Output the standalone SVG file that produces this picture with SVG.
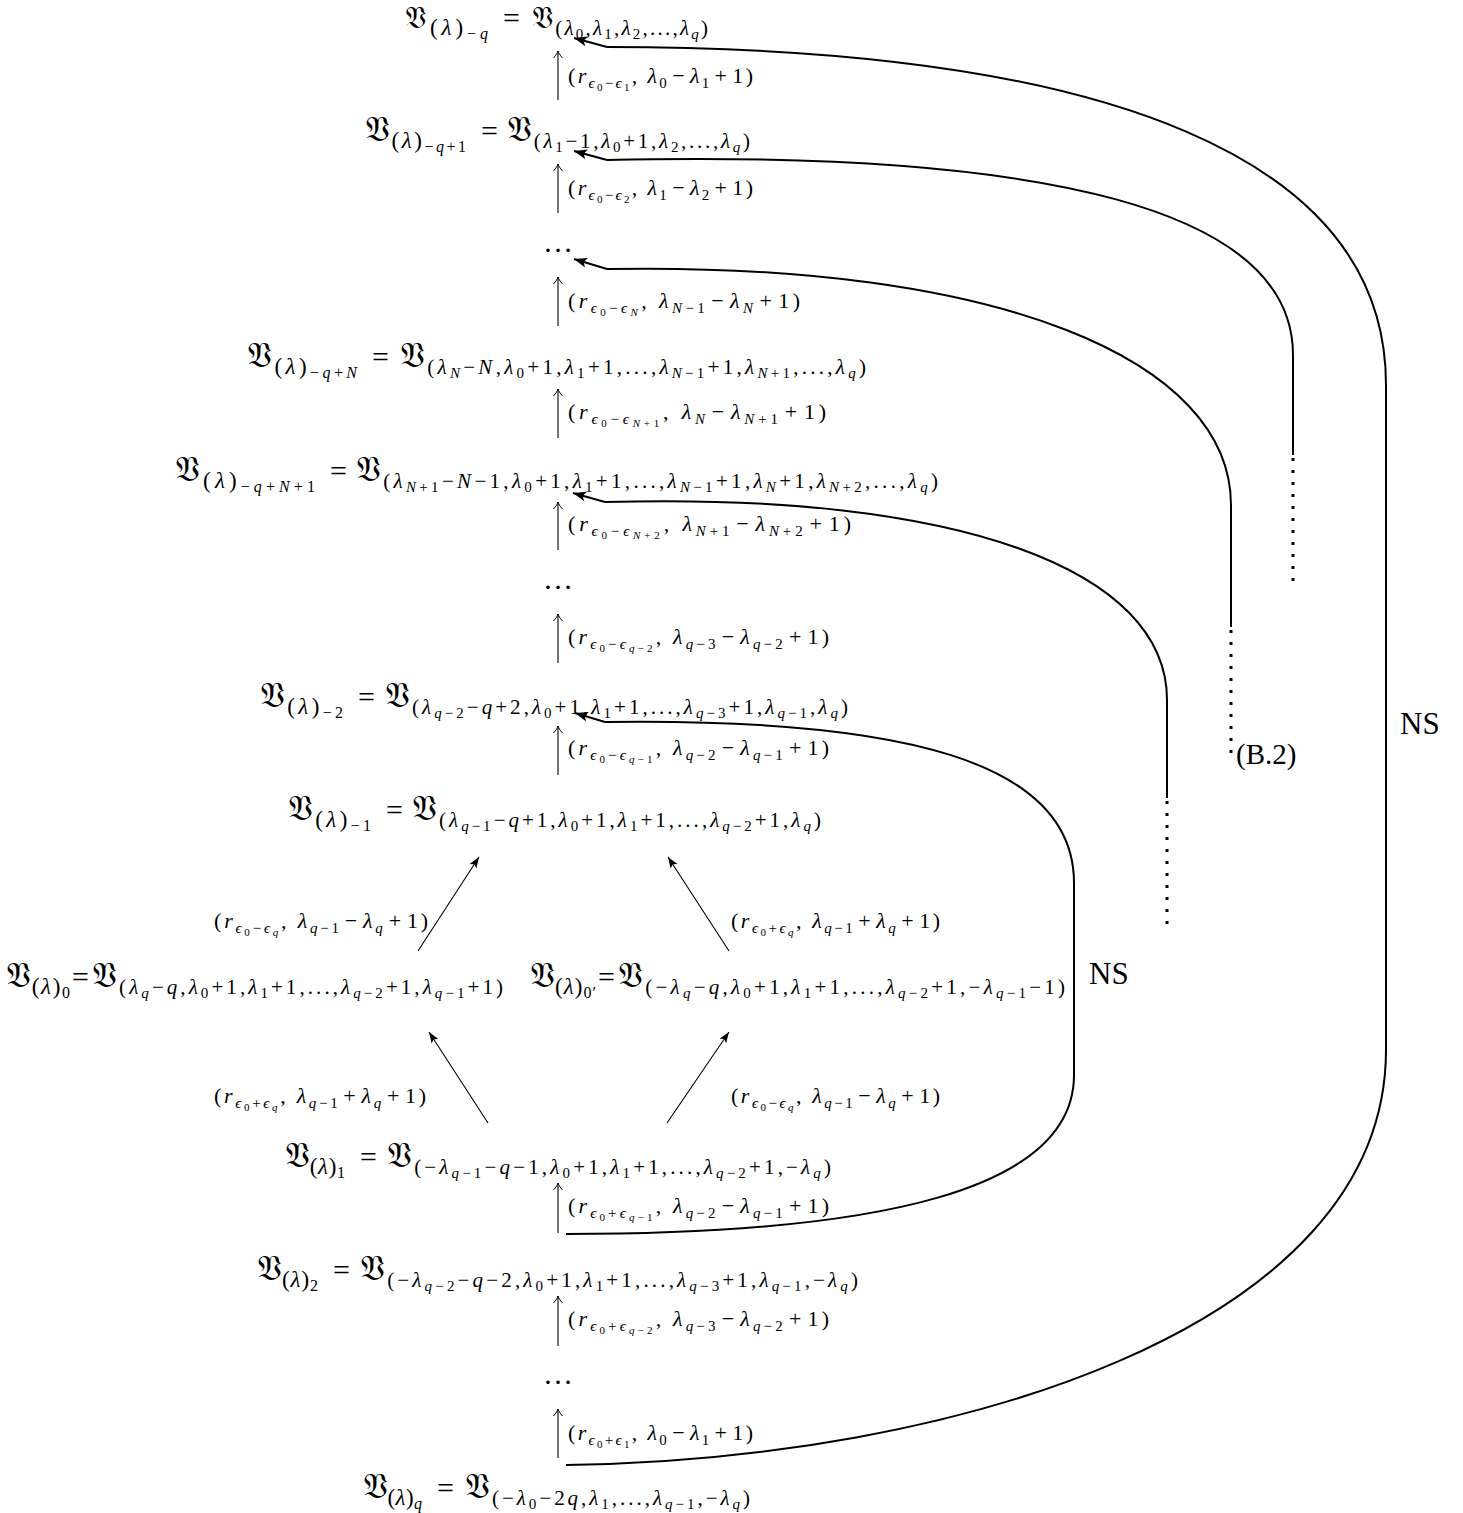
<svg xmlns="http://www.w3.org/2000/svg" width="1463" height="1513" viewBox="0 0 1463 1513">
<style>
text{font-family:"Liberation Serif","DejaVu Serif",serif;fill:#000}
.fr{font-family:"DejaVu Sans","DejaVu Serif","Noto Sans",serif;font-style:normal;font-size:35px}
.fr2{font-family:"DejaVu Sans","DejaVu Serif","Noto Sans",serif;font-style:normal;font-size:30px}
.a{font-size:28px}
.e{font-size:30px}
.b{font-size:21px}
.c{font-size:15px}
.bl{font-size:23px}
.cl{font-size:16px}
.i{font-style:italic}
.L{font-size:22px}
.Ls{font-size:15px}
.Lss{font-size:11px}
.d{font-size:30px}
.t{font-size:31px}
.ln{fill:none;stroke:#000;stroke-width:1.1}
.cv{fill:none;stroke:#000;stroke-width:2}
.dt{fill:none;stroke:#000;stroke-width:3;stroke-dasharray:3 9}
</style>
<defs>
<marker id="hk" viewBox="-9 -6 11 12" markerWidth="11" markerHeight="12" refX="0" refY="0" orient="auto" markerUnits="userSpaceOnUse"><path d="M-7,-4.5 C-4,-1.8 -1.5,-0.4 0,0 C-1.5,0.4 -4,1.8 -7,4.5" fill="none" stroke="#000" stroke-width="1"/></marker>
<marker id="tri" viewBox="-12 -6 14 12" markerWidth="14" markerHeight="12" refX="0" refY="0" orient="auto" markerUnits="userSpaceOnUse"><path d="M0,0 L-11,-4 L-8.5,0 L-11,4 Z" fill="#000"/></marker>
<marker id="big" viewBox="-15 -7 17 14" markerWidth="17" markerHeight="14" refX="0" refY="0" orient="auto" markerUnits="userSpaceOnUse"><path d="M0,0 L-13,-5 L-10,0 L-13,5 Z" fill="#000"/></marker>
</defs>

<g id="n-minus-q">
<text class="a" x="405" y="28" textLength="83" lengthAdjust="spacing"><tspan class="fr2">𝔙</tspan><tspan class="bl" y="35">(<tspan class="i">λ</tspan>)</tspan><tspan class="cl" y="39">−<tspan class="i">q</tspan></tspan></text>
<text class="e" x="503" y="28">=</text>
<text class="a" x="532" y="28" textLength="176" lengthAdjust="spacing"><tspan class="fr2">𝔙</tspan><tspan class="b" y="35">(<tspan class="i">λ</tspan></tspan><tspan class="c" y="39">0</tspan><tspan class="b" y="35">,<tspan class="i">λ</tspan></tspan><tspan class="c" y="39">1</tspan><tspan class="b" y="35">,<tspan class="i">λ</tspan></tspan><tspan class="c" y="39">2</tspan><tspan class="b" y="35">,...,<tspan class="i">λ</tspan></tspan><tspan class="c i" y="39">q</tspan><tspan class="b" y="35">)</tspan></text>
</g>

<g id="n-minus-q-plus-1">
<text class="a" x="365" y="141" textLength="101" lengthAdjust="spacing"><tspan class="fr">𝔙</tspan><tspan class="bl" y="148">(<tspan class="i">λ</tspan>)</tspan><tspan class="cl" y="152">−<tspan class="i">q</tspan>+1</tspan></text>
<text class="e" x="481" y="141">=</text>
<text class="a" x="507" y="141" textLength="243" lengthAdjust="spacing"><tspan class="fr">𝔙</tspan><tspan class="b" y="148">(<tspan class="i">λ</tspan></tspan><tspan class="c" y="152">1</tspan><tspan class="b" y="148">−1,<tspan class="i">λ</tspan></tspan><tspan class="c" y="152">0</tspan><tspan class="b" y="148">+1,<tspan class="i">λ</tspan></tspan><tspan class="c" y="152">2</tspan><tspan class="b" y="148">,...,<tspan class="i">λ</tspan></tspan><tspan class="c i" y="152">q</tspan><tspan class="b" y="148">)</tspan></text>
</g>

<g id="dots-1"><text class="d" x="543" y="252">…</text></g>

<g id="n-minus-q-plus-N">
<text class="a" x="247" y="367" textLength="110" lengthAdjust="spacing"><tspan class="fr">𝔙</tspan><tspan class="bl" y="374">(<tspan class="i">λ</tspan>)</tspan><tspan class="cl" y="378">−<tspan class="i">q</tspan>+<tspan class="i">N</tspan></tspan></text>
<text class="e" x="372" y="367">=</text>
<text class="a" x="400" y="367" textLength="466" lengthAdjust="spacing"><tspan class="fr">𝔙</tspan><tspan class="b" y="374">(<tspan class="i">λ</tspan></tspan><tspan class="c i" y="378">N</tspan><tspan class="b" y="374">−<tspan class="i">N</tspan>,<tspan class="i">λ</tspan></tspan><tspan class="c" y="378">0</tspan><tspan class="b" y="374">+1,<tspan class="i">λ</tspan></tspan><tspan class="c" y="378">1</tspan><tspan class="b" y="374">+1,...,<tspan class="i">λ</tspan></tspan><tspan class="c" y="378"><tspan class="i">N</tspan>−1</tspan><tspan class="b" y="374">+1,<tspan class="i">λ</tspan></tspan><tspan class="c" y="378"><tspan class="i">N</tspan>+1</tspan><tspan class="b" y="374">,...,<tspan class="i">λ</tspan></tspan><tspan class="c i" y="378">q</tspan><tspan class="b" y="374">)</tspan></text>
</g>

<g id="n-minus-q-plus-N-plus-1">
<text class="a" x="175" y="481" textLength="140" lengthAdjust="spacing"><tspan class="fr">𝔙</tspan><tspan class="bl" y="488">(<tspan class="i">λ</tspan>)</tspan><tspan class="cl" y="492">−<tspan class="i">q</tspan>+<tspan class="i">N</tspan>+1</tspan></text>
<text class="e" x="330" y="481">=</text>
<text class="a" x="356" y="481" textLength="582" lengthAdjust="spacing"><tspan class="fr">𝔙</tspan><tspan class="b" y="488">(<tspan class="i">λ</tspan></tspan><tspan class="c" y="492"><tspan class="i">N</tspan>+1</tspan><tspan class="b" y="488">−<tspan class="i">N</tspan>−1,<tspan class="i">λ</tspan></tspan><tspan class="c" y="492">0</tspan><tspan class="b" y="488">+1,<tspan class="i">λ</tspan></tspan><tspan class="c" y="492">1</tspan><tspan class="b" y="488">+1,...,<tspan class="i">λ</tspan></tspan><tspan class="c" y="492"><tspan class="i">N</tspan>−1</tspan><tspan class="b" y="488">+1,<tspan class="i">λ</tspan></tspan><tspan class="c i" y="492">N</tspan><tspan class="b" y="488">+1,<tspan class="i">λ</tspan></tspan><tspan class="c" y="492"><tspan class="i">N</tspan>+2</tspan><tspan class="b" y="488">,...,<tspan class="i">λ</tspan></tspan><tspan class="c i" y="492">q</tspan><tspan class="b" y="488">)</tspan></text>
</g>

<g id="dots-2"><text class="d" x="543" y="589">…</text></g>

<g id="n-minus-2">
<text class="a" x="260" y="707" textLength="83" lengthAdjust="spacing"><tspan class="fr">𝔙</tspan><tspan class="bl" y="714">(<tspan class="i">λ</tspan>)</tspan><tspan class="cl" y="718">−2</tspan></text>
<text class="e" x="358" y="707">=</text>
<text class="a" x="385" y="707" textLength="463" lengthAdjust="spacing"><tspan class="fr">𝔙</tspan><tspan class="b" y="714">(<tspan class="i">λ</tspan></tspan><tspan class="c" y="718"><tspan class="i">q</tspan>−2</tspan><tspan class="b" y="714">−<tspan class="i">q</tspan>+2,<tspan class="i">λ</tspan></tspan><tspan class="c" y="718">0</tspan><tspan class="b" y="714">+1,<tspan class="i">λ</tspan></tspan><tspan class="c" y="718">1</tspan><tspan class="b" y="714">+1,...,<tspan class="i">λ</tspan></tspan><tspan class="c" y="718"><tspan class="i">q</tspan>−3</tspan><tspan class="b" y="714">+1,<tspan class="i">λ</tspan></tspan><tspan class="c" y="718"><tspan class="i">q</tspan>−1</tspan><tspan class="b" y="714">,<tspan class="i">λ</tspan></tspan><tspan class="c i" y="718">q</tspan><tspan class="b" y="714">)</tspan></text>
</g>

<g id="n-minus-1">
<text class="a" x="288" y="820" textLength="83" lengthAdjust="spacing"><tspan class="fr">𝔙</tspan><tspan class="bl" y="827">(<tspan class="i">λ</tspan>)</tspan><tspan class="cl" y="831">−1</tspan></text>
<text class="e" x="386" y="820">=</text>
<text class="a" x="412" y="820" textLength="409" lengthAdjust="spacing"><tspan class="fr">𝔙</tspan><tspan class="b" y="827">(<tspan class="i">λ</tspan></tspan><tspan class="c" y="831"><tspan class="i">q</tspan>−1</tspan><tspan class="b" y="827">−<tspan class="i">q</tspan>+1,<tspan class="i">λ</tspan></tspan><tspan class="c" y="831">0</tspan><tspan class="b" y="827">+1,<tspan class="i">λ</tspan></tspan><tspan class="c" y="831">1</tspan><tspan class="b" y="827">+1,...,<tspan class="i">λ</tspan></tspan><tspan class="c" y="831"><tspan class="i">q</tspan>−2</tspan><tspan class="b" y="827">+1,<tspan class="i">λ</tspan></tspan><tspan class="c i" y="831">q</tspan><tspan class="b" y="827">)</tspan></text>
</g>

<g id="n-0">
<text class="a" x="6" y="987" textLength="64" lengthAdjust="spacing"><tspan class="fr">𝔙</tspan><tspan class="bl" y="994">(<tspan class="i">λ</tspan>)</tspan><tspan class="cl" y="998">0</tspan></text>
<text class="e" x="72" y="987">=</text>
<text class="a" x="92" y="987" textLength="411" lengthAdjust="spacing"><tspan class="fr">𝔙</tspan><tspan class="b" y="994">(<tspan class="i">λ</tspan></tspan><tspan class="c i" y="998">q</tspan><tspan class="b" y="994">−<tspan class="i">q</tspan>,<tspan class="i">λ</tspan></tspan><tspan class="c" y="998">0</tspan><tspan class="b" y="994">+1,<tspan class="i">λ</tspan></tspan><tspan class="c" y="998">1</tspan><tspan class="b" y="994">+1,...,<tspan class="i">λ</tspan></tspan><tspan class="c" y="998"><tspan class="i">q</tspan>−2</tspan><tspan class="b" y="994">+1,<tspan class="i">λ</tspan></tspan><tspan class="c" y="998"><tspan class="i">q</tspan>−1</tspan><tspan class="b" y="994">+1)</tspan></text>
</g>

<g id="n-0prime">
<text class="a" x="530" y="987" textLength="66" lengthAdjust="spacing"><tspan class="fr">𝔙</tspan><tspan class="bl" y="994">(<tspan class="i">λ</tspan>)</tspan><tspan class="cl" y="998">0′</tspan></text>
<text class="e" x="598" y="987">=</text>
<text class="a" x="618" y="987" textLength="447" lengthAdjust="spacing"><tspan class="fr">𝔙</tspan><tspan class="b" y="994">(−<tspan class="i">λ</tspan></tspan><tspan class="c i" y="998">q</tspan><tspan class="b" y="994">−<tspan class="i">q</tspan>,<tspan class="i">λ</tspan></tspan><tspan class="c" y="998">0</tspan><tspan class="b" y="994">+1,<tspan class="i">λ</tspan></tspan><tspan class="c" y="998">1</tspan><tspan class="b" y="994">+1,...,<tspan class="i">λ</tspan></tspan><tspan class="c" y="998"><tspan class="i">q</tspan>−2</tspan><tspan class="b" y="994">+1,−<tspan class="i">λ</tspan></tspan><tspan class="c" y="998"><tspan class="i">q</tspan>−1</tspan><tspan class="b" y="994">−1)</tspan></text>
</g>

<g id="n-1">
<text class="a" x="285" y="1167" textLength="60" lengthAdjust="spacing"><tspan class="fr">𝔙</tspan><tspan class="bl" y="1174">(<tspan class="i">λ</tspan>)</tspan><tspan class="cl" y="1178">1</tspan></text>
<text class="e" x="360" y="1167">=</text>
<text class="a" x="387" y="1167" textLength="444" lengthAdjust="spacing"><tspan class="fr">𝔙</tspan><tspan class="b" y="1174">(−<tspan class="i">λ</tspan></tspan><tspan class="c" y="1178"><tspan class="i">q</tspan>−1</tspan><tspan class="b" y="1174">−<tspan class="i">q</tspan>−1,<tspan class="i">λ</tspan></tspan><tspan class="c" y="1178">0</tspan><tspan class="b" y="1174">+1,<tspan class="i">λ</tspan></tspan><tspan class="c" y="1178">1</tspan><tspan class="b" y="1174">+1,...,<tspan class="i">λ</tspan></tspan><tspan class="c" y="1178"><tspan class="i">q</tspan>−2</tspan><tspan class="b" y="1174">+1,−<tspan class="i">λ</tspan></tspan><tspan class="c i" y="1178">q</tspan><tspan class="b" y="1174">)</tspan></text>
</g>

<g id="n-2">
<text class="a" x="257" y="1280" textLength="61" lengthAdjust="spacing"><tspan class="fr">𝔙</tspan><tspan class="bl" y="1287">(<tspan class="i">λ</tspan>)</tspan><tspan class="cl" y="1291">2</tspan></text>
<text class="e" x="333" y="1280">=</text>
<text class="a" x="360" y="1280" textLength="498" lengthAdjust="spacing"><tspan class="fr">𝔙</tspan><tspan class="b" y="1287">(−<tspan class="i">λ</tspan></tspan><tspan class="c" y="1291"><tspan class="i">q</tspan>−2</tspan><tspan class="b" y="1287">−<tspan class="i">q</tspan>−2,<tspan class="i">λ</tspan></tspan><tspan class="c" y="1291">0</tspan><tspan class="b" y="1287">+1,<tspan class="i">λ</tspan></tspan><tspan class="c" y="1291">1</tspan><tspan class="b" y="1287">+1,...,<tspan class="i">λ</tspan></tspan><tspan class="c" y="1291"><tspan class="i">q</tspan>−3</tspan><tspan class="b" y="1287">+1,<tspan class="i">λ</tspan></tspan><tspan class="c" y="1291"><tspan class="i">q</tspan>−1</tspan><tspan class="b" y="1287">,−<tspan class="i">λ</tspan></tspan><tspan class="c i" y="1291">q</tspan><tspan class="b" y="1287">)</tspan></text>
</g>

<g id="dots-3"><text class="d" x="543" y="1384">…</text></g>

<g id="n-q">
<text class="a" x="363" y="1498" textLength="59" lengthAdjust="spacing"><tspan class="fr">𝔙</tspan><tspan class="bl" y="1505">(<tspan class="i">λ</tspan>)</tspan><tspan class="cl i" y="1509">q</tspan></text>
<text class="e" x="437" y="1498">=</text>
<text class="a" x="465" y="1498" textLength="285" lengthAdjust="spacing"><tspan class="fr">𝔙</tspan><tspan class="b" y="1505">(−<tspan class="i">λ</tspan></tspan><tspan class="c" y="1509">0</tspan><tspan class="b" y="1505">−2<tspan class="i">q</tspan>,<tspan class="i">λ</tspan></tspan><tspan class="c" y="1509">1</tspan><tspan class="b" y="1505">,...,<tspan class="i">λ</tspan></tspan><tspan class="c" y="1509"><tspan class="i">q</tspan>−1</tspan><tspan class="b" y="1505">,−<tspan class="i">λ</tspan></tspan><tspan class="c i" y="1509">q</tspan><tspan class="b" y="1505">)</tspan></text>
</g>

<g id="connectors">
<path class="ln" marker-end="url(#hk)" d="M558,100 L558,51"/>
<path class="ln" marker-end="url(#hk)" d="M558,213 L558,164"/>
<path class="ln" marker-end="url(#hk)" d="M558,326 L558,277"/>
<path class="ln" marker-end="url(#hk)" d="M558,438 L558,389"/>
<path class="ln" marker-end="url(#hk)" d="M558,550 L558,502"/>
<path class="ln" marker-end="url(#hk)" d="M558,663 L558,614"/>
<path class="ln" marker-end="url(#hk)" d="M558,775 L558,726"/>
<path class="ln" marker-end="url(#hk)" d="M558,1233 L558,1183"/>
<path class="ln" marker-end="url(#hk)" d="M558,1346 L558,1296"/>
<path class="ln" marker-end="url(#hk)" d="M558,1458 L558,1409"/>
<path class="ln" marker-end="url(#tri)" d="M418,951 L479,857"/>
<path class="ln" marker-end="url(#tri)" d="M729,951 L668,857"/>
<path class="ln" marker-end="url(#tri)" d="M488,1123 L429,1032"/>
<path class="ln" marker-end="url(#tri)" d="M667,1123 L729,1032"/>
<path class="cv" d="M607,47 C1113,47 1386,160 1386,385 L1386,1050 C1386,1330 950,1460 566,1465"/>
<path class="cv" marker-end="url(#big)" d="M607,47 L574,38"/>
<path class="cv" d="M607,160 C1050,150 1293,210 1293,355 L1293,455"/>
<path class="dt" d="M1293,458 L1293,582"/>
<path class="cv" marker-end="url(#big)" d="M607,160 L574,151"/>
<path class="cv" d="M607,269 C1000,262 1231,360 1231,505 L1231,627"/>
<path class="dt" d="M1231,630 L1231,754"/>
<path class="cv" marker-end="url(#big)" d="M607,269 L574,259"/>
<path class="cv" d="M605,502 C960,492 1167,570 1167,700 L1167,798"/>
<path class="dt" d="M1167,801 L1167,924"/>
<path class="cv" marker-end="url(#big)" d="M605,502 L573,493"/>
<path class="cv" d="M605,722 C900,718 1074,760 1074,883 L1074,1075 C1074,1190 880,1234 566,1234"/>
<path class="cv" marker-end="url(#big)" d="M605,722 L575,713"/>
</g>

<g id="edge-labels">
<text class="L" x="568" y="83" textLength="185" lengthAdjust="spacing">(<tspan class="i">r</tspan><tspan class="Ls i" y="88">ϵ</tspan><tspan class="Lss" y="91">0</tspan><tspan class="Ls" y="88">−<tspan class="i">ϵ</tspan></tspan><tspan class="Lss" y="91">1</tspan><tspan y="83">, <tspan class="i">λ</tspan></tspan><tspan class="Ls" y="88">0</tspan><tspan y="83" dx="3">−</tspan><tspan class="i" dx="3">λ</tspan><tspan class="Ls" y="88">1</tspan><tspan y="83" dx="3">+</tspan><tspan dx="3">1)</tspan></text>
<text class="L" x="568" y="195" textLength="185" lengthAdjust="spacing">(<tspan class="i">r</tspan><tspan class="Ls i" y="200">ϵ</tspan><tspan class="Lss" y="203">0</tspan><tspan class="Ls" y="200">−<tspan class="i">ϵ</tspan></tspan><tspan class="Lss" y="203">2</tspan><tspan y="195">, <tspan class="i">λ</tspan></tspan><tspan class="Ls" y="200">1</tspan><tspan y="195" dx="3">−</tspan><tspan class="i" dx="3">λ</tspan><tspan class="Ls" y="200">2</tspan><tspan y="195" dx="3">+</tspan><tspan dx="3">1)</tspan></text>
<text class="L" x="568" y="308" textLength="232" lengthAdjust="spacing">(<tspan class="i">r</tspan><tspan class="Ls i" y="313">ϵ</tspan><tspan class="Lss" y="316">0</tspan><tspan class="Ls" y="313">−<tspan class="i">ϵ</tspan></tspan><tspan class="Lss i" y="316">N</tspan><tspan y="308">, <tspan class="i">λ</tspan></tspan><tspan class="Ls" y="313"><tspan class="i">N</tspan>−1</tspan><tspan y="308" dx="3">−</tspan><tspan class="i" dx="3">λ</tspan><tspan class="Ls i" y="313">N</tspan><tspan y="308" dx="3">+</tspan><tspan dx="3">1)</tspan></text>
<text class="L" x="568" y="419" textLength="258" lengthAdjust="spacing">(<tspan class="i">r</tspan><tspan class="Ls i" y="424">ϵ</tspan><tspan class="Lss" y="427">0</tspan><tspan class="Ls" y="424">−<tspan class="i">ϵ</tspan></tspan><tspan class="Lss" y="427"><tspan class="i">N</tspan>+1</tspan><tspan y="419">, <tspan class="i">λ</tspan></tspan><tspan class="Ls i" y="424">N</tspan><tspan y="419" dx="3">−</tspan><tspan class="i" dx="3">λ</tspan><tspan class="Ls" y="424"><tspan class="i">N</tspan>+1</tspan><tspan y="419" dx="3">+</tspan><tspan dx="3">1)</tspan></text>
<text class="L" x="568" y="531" textLength="283" lengthAdjust="spacing">(<tspan class="i">r</tspan><tspan class="Ls i" y="536">ϵ</tspan><tspan class="Lss" y="539">0</tspan><tspan class="Ls" y="536">−<tspan class="i">ϵ</tspan></tspan><tspan class="Lss" y="539"><tspan class="i">N</tspan>+2</tspan><tspan y="531">, <tspan class="i">λ</tspan></tspan><tspan class="Ls" y="536"><tspan class="i">N</tspan>+1</tspan><tspan y="531" dx="3">−</tspan><tspan class="i" dx="3">λ</tspan><tspan class="Ls" y="536"><tspan class="i">N</tspan>+2</tspan><tspan y="531" dx="3">+</tspan><tspan dx="3">1)</tspan></text>
<text class="L" x="568" y="644" textLength="261" lengthAdjust="spacing">(<tspan class="i">r</tspan><tspan class="Ls i" y="649">ϵ</tspan><tspan class="Lss" y="652">0</tspan><tspan class="Ls" y="649">−<tspan class="i">ϵ</tspan></tspan><tspan class="Lss" y="652"><tspan class="i">q</tspan>−2</tspan><tspan y="644">, <tspan class="i">λ</tspan></tspan><tspan class="Ls" y="649"><tspan class="i">q</tspan>−3</tspan><tspan y="644" dx="3">−</tspan><tspan class="i" dx="3">λ</tspan><tspan class="Ls" y="649"><tspan class="i">q</tspan>−2</tspan><tspan y="644" dx="3">+</tspan><tspan dx="3">1)</tspan></text>
<text class="L" x="568" y="755" textLength="261" lengthAdjust="spacing">(<tspan class="i">r</tspan><tspan class="Ls i" y="760">ϵ</tspan><tspan class="Lss" y="763">0</tspan><tspan class="Ls" y="760">−<tspan class="i">ϵ</tspan></tspan><tspan class="Lss" y="763"><tspan class="i">q</tspan>−1</tspan><tspan y="755">, <tspan class="i">λ</tspan></tspan><tspan class="Ls" y="760"><tspan class="i">q</tspan>−2</tspan><tspan y="755" dx="3">−</tspan><tspan class="i" dx="3">λ</tspan><tspan class="Ls" y="760"><tspan class="i">q</tspan>−1</tspan><tspan y="755" dx="3">+</tspan><tspan dx="3">1)</tspan></text>
<text class="L" x="214" y="928" textLength="214" lengthAdjust="spacing">(<tspan class="i">r</tspan><tspan class="Ls i" y="933">ϵ</tspan><tspan class="Lss" y="936">0</tspan><tspan class="Ls" y="933">−<tspan class="i">ϵ</tspan></tspan><tspan class="Lss i" y="936">q</tspan><tspan y="928">, <tspan class="i">λ</tspan></tspan><tspan class="Ls" y="933"><tspan class="i">q</tspan>−1</tspan><tspan y="928" dx="3">−</tspan><tspan class="i" dx="3">λ</tspan><tspan class="Ls i" y="933">q</tspan><tspan y="928" dx="3">+</tspan><tspan dx="3">1)</tspan></text>
<text class="L" x="731" y="928" textLength="209" lengthAdjust="spacing">(<tspan class="i">r</tspan><tspan class="Ls i" y="933">ϵ</tspan><tspan class="Lss" y="936">0</tspan><tspan class="Ls" y="933">+<tspan class="i">ϵ</tspan></tspan><tspan class="Lss i" y="936">q</tspan><tspan y="928">, <tspan class="i">λ</tspan></tspan><tspan class="Ls" y="933"><tspan class="i">q</tspan>−1</tspan><tspan y="928" dx="3">+</tspan><tspan class="i" dx="3">λ</tspan><tspan class="Ls i" y="933">q</tspan><tspan y="928" dx="3">+</tspan><tspan dx="3">1)</tspan></text>
<text class="L" x="214" y="1103" textLength="212" lengthAdjust="spacing">(<tspan class="i">r</tspan><tspan class="Ls i" y="1108">ϵ</tspan><tspan class="Lss" y="1111">0</tspan><tspan class="Ls" y="1108">+<tspan class="i">ϵ</tspan></tspan><tspan class="Lss i" y="1111">q</tspan><tspan y="1103">, <tspan class="i">λ</tspan></tspan><tspan class="Ls" y="1108"><tspan class="i">q</tspan>−1</tspan><tspan y="1103" dx="3">+</tspan><tspan class="i" dx="3">λ</tspan><tspan class="Ls i" y="1108">q</tspan><tspan y="1103" dx="3">+</tspan><tspan dx="3">1)</tspan></text>
<text class="L" x="731" y="1103" textLength="209" lengthAdjust="spacing">(<tspan class="i">r</tspan><tspan class="Ls i" y="1108">ϵ</tspan><tspan class="Lss" y="1111">0</tspan><tspan class="Ls" y="1108">−<tspan class="i">ϵ</tspan></tspan><tspan class="Lss i" y="1111">q</tspan><tspan y="1103">, <tspan class="i">λ</tspan></tspan><tspan class="Ls" y="1108"><tspan class="i">q</tspan>−1</tspan><tspan y="1103" dx="3">−</tspan><tspan class="i" dx="3">λ</tspan><tspan class="Ls i" y="1108">q</tspan><tspan y="1103" dx="3">+</tspan><tspan dx="3">1)</tspan></text>
<text class="L" x="568" y="1213" textLength="261" lengthAdjust="spacing">(<tspan class="i">r</tspan><tspan class="Ls i" y="1218">ϵ</tspan><tspan class="Lss" y="1221">0</tspan><tspan class="Ls" y="1218">+<tspan class="i">ϵ</tspan></tspan><tspan class="Lss" y="1221"><tspan class="i">q</tspan>−1</tspan><tspan y="1213">, <tspan class="i">λ</tspan></tspan><tspan class="Ls" y="1218"><tspan class="i">q</tspan>−2</tspan><tspan y="1213" dx="3">−</tspan><tspan class="i" dx="3">λ</tspan><tspan class="Ls" y="1218"><tspan class="i">q</tspan>−1</tspan><tspan y="1213" dx="3">+</tspan><tspan dx="3">1)</tspan></text>
<text class="L" x="568" y="1326" textLength="261" lengthAdjust="spacing">(<tspan class="i">r</tspan><tspan class="Ls i" y="1331">ϵ</tspan><tspan class="Lss" y="1334">0</tspan><tspan class="Ls" y="1331">+<tspan class="i">ϵ</tspan></tspan><tspan class="Lss" y="1334"><tspan class="i">q</tspan>−2</tspan><tspan y="1326">, <tspan class="i">λ</tspan></tspan><tspan class="Ls" y="1331"><tspan class="i">q</tspan>−3</tspan><tspan y="1326" dx="3">−</tspan><tspan class="i" dx="3">λ</tspan><tspan class="Ls" y="1331"><tspan class="i">q</tspan>−2</tspan><tspan y="1326" dx="3">+</tspan><tspan dx="3">1)</tspan></text>
<text class="L" x="568" y="1440" textLength="185" lengthAdjust="spacing">(<tspan class="i">r</tspan><tspan class="Ls i" y="1445">ϵ</tspan><tspan class="Lss" y="1448">0</tspan><tspan class="Ls" y="1445">+<tspan class="i">ϵ</tspan></tspan><tspan class="Lss" y="1448">1</tspan><tspan y="1440">, <tspan class="i">λ</tspan></tspan><tspan class="Ls" y="1445">0</tspan><tspan y="1440" dx="3">−</tspan><tspan class="i" dx="3">λ</tspan><tspan class="Ls" y="1445">1</tspan><tspan y="1440" dx="3">+</tspan><tspan dx="3">1)</tspan></text>
<text class="t" x="1400" y="734">NS</text>
<text class="t" x="1089" y="984">NS</text>
<text class="t" x="1236" y="764" style="font-size:29px">(B.2)</text>
</g>
</svg>
